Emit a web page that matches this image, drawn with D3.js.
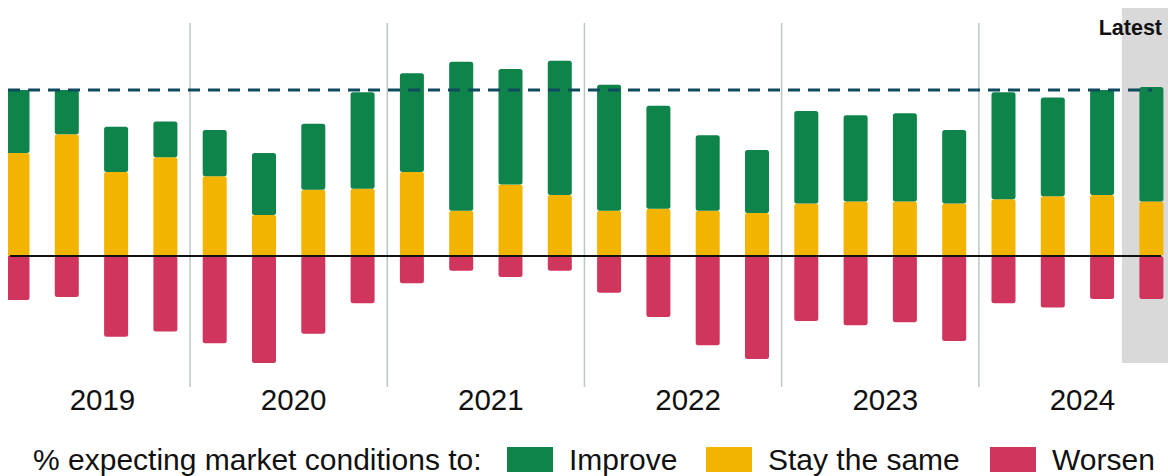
<!DOCTYPE html>
<html>
<head>
<meta charset="utf-8">
<script src="https://cdn.jsdelivr.net/npm/d3@7"></script>
<style>
  body { margin: 0; background: #fff; }
  svg text { font-family: "Liberation Sans", Arial, sans-serif; fill: #111; }
</style>
</head>
<body>
<svg id="chart" width="1168" height="476"></svg>
<script>
// quarterly survey, % of respondents
const quarters = ["2019Q1","2019Q2","2019Q3","2019Q4","2020Q1","2020Q2","2020Q3","2020Q4",
                  "2021Q1","2021Q2","2021Q3","2021Q4","2022Q1","2022Q2","2022Q3","2022Q4",
                  "2023Q1","2023Q2","2023Q3","2023Q4","2024Q1","2024Q2","2024Q3","2024Q4"];
const years = ["2019", "2020", "2021", "2022", "2023", "2024"];
const improve = [30, 21, 21.5, 17, 22, 29.5, 31.5, 46, 47, 71, 55, 64, 60, 49, 36, 30, 44, 41, 42, 35, 51, 47, 50, 54.5];
const same    = [49, 58, 40, 47, 38, 19.5, 31.5, 32, 40, 21.5, 34, 29, 21.5, 22.5, 21.5, 20.5, 25, 26, 26, 25, 27, 28.5, 29, 26];
const worsen  = [21, 19.5, 38.5, 36, 41.5, 51, 37, 22.5, 13, 7, 10, 7, 17.5, 29, 42.5, 49, 31, 33, 31.5, 40.5, 22.5, 24.5, 20.5, 20.5];
const reference = 79; // dashed line
const legendTitle = "% expecting market conditions to:";
const seriesNames = ["Improve", "Stay the same", "Worsen"];
const colors = {"Improve": "#0e844b", "Stay the same": "#f3b400", "Worsen": "#d0365d"};

const svg = d3.select("#chart");
const step = 49.3;

const x = d3.scaleBand()
    .domain(quarters)
    .range([17.5 - step / 2, 17.5 + (quarters.length - 0.5) * step])
    .paddingInner(0.513)
    .paddingOuter(0.2565);

const y = d3.scaleLinear()
    .domain([0, 100])
    .range([256, 46]);

const center = q => x(q) + x.bandwidth() / 2;

svg.append("defs").append("clipPath").attr("id", "plot")
  .append("rect").attr("x", 8).attr("y", 0).attr("width", 1160).attr("height", 420);

// latest highlight
const last = quarters[quarters.length - 1];
svg.append("rect")
    .attr("x", center(last) - 29.5)
    .attr("y", 8)
    .attr("width", 1168 - (center(last) - 29.5))
    .attr("height", 355)
    .attr("fill", "#d9d9d9");

svg.append("text")
    .attr("x", 1162)
    .attr("y", 35)
    .attr("text-anchor", "end")
    .attr("font-weight", "bold")
    .attr("font-size", "21.5px")
    .text("Latest");

// year separators
years.slice(1).forEach((yr, i) => {
    const a = quarters[(i + 1) * 4 - 1], b = quarters[(i + 1) * 4];
    const sx = (center(a) + center(b)) / 2;
    svg.append("line")
        .attr("x1", sx).attr("x2", sx)
        .attr("y1", 23).attr("y2", 387)
        .attr("stroke", "#bcc8c8")
        .attr("stroke-width", 1.5);
});

const bars = svg.append("g").attr("clip-path", "url(#plot)");

quarters.forEach((q, i) => {
    const segs = [
        {name: "Worsen", y0: -worsen[i], y1: 0},
        {name: "Stay the same", y0: 0, y1: same[i]},
        {name: "Improve", y0: same[i], y1: same[i] + improve[i]}
    ];
    bars.selectAll(null)
        .data(segs)
        .enter().append("rect")
        .attr("x", x(q))
        .attr("width", x.bandwidth())
        .attr("y", d => y(d.y1))
        .attr("height", d => y(d.y0) - y(d.y1))
        .attr("rx", 2.5)
        .attr("fill", d => colors[d.name]);
});

// dashed reference
svg.append("line")
    .attr("x1", 8).attr("x2", 1152)
    .attr("y1", y(reference)).attr("y2", y(reference))
    .attr("stroke", "#0f4a5f")
    .attr("stroke-width", 3)
    .attr("stroke-dasharray", "12,8");

// zero line
svg.append("line")
    .attr("x1", 10).attr("x2", 1161)
    .attr("y1", y(0)).attr("y2", y(0))
    .attr("stroke", "#111")
    .attr("stroke-width", 2);

// year labels
years.forEach((yr, i) => {
    let cx = (center(quarters[i * 4]) + center(quarters[i * 4 + 3])) / 2 + 5;
    if (i === 0) cx += 6; // first group is partly cut off
    svg.append("text")
        .attr("x", cx)
        .attr("y", 410)
        .attr("text-anchor", "middle")
        .attr("font-size", "29.5px")
        .text(yr);
});

// legend
const legend = svg.append("g");
legend.append("text")
    .attr("x", 33).attr("y", 470)
    .attr("font-size", "30px")
    .text(legendTitle);

const swatchX = [507, 706, 990];
seriesNames.forEach((name, i) => {
    legend.append("rect")
        .attr("x", swatchX[i]).attr("y", 447)
        .attr("width", 46).attr("height", 25)
        .attr("fill", colors[name]);
    legend.append("text")
        .attr("x", swatchX[i] + 62).attr("y", 470)
        .attr("font-size", "30px")
        .text(name);
});
</script>
</body>
</html>
